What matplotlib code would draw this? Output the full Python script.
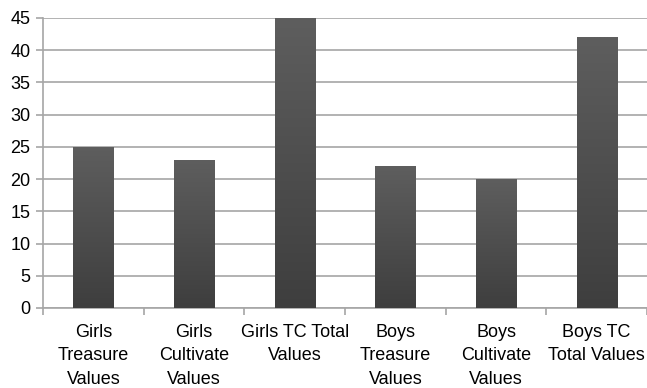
import numpy as np
import matplotlib.pyplot as plt
from matplotlib.colors import LinearSegmentedColormap

plt.rcParams['font.family'] = ['Liberation Sans', 'DejaVu Sans']

categories = ['Girls\nTreasure\nValues', 'Girls\nCultivate\nValues', 'Girls TC Total\nValues',
              'Boys\nTreasure\nValues', 'Boys\nCultivate\nValues', 'Boys TC\nTotal Values']
values = [25, 23, 45, 22, 20, 42]
yticks = [0, 5, 10, 15, 20, 25, 30, 35, 40, 45]

fig = plt.figure(figsize=(6.47, 3.88), dpi=100)
ax = fig.add_axes([43 / 647, 80 / 388, 604 / 647, 290 / 388])

grid_col = '#a6a6a6'
x = np.arange(len(values))
bars = ax.bar(x, values, width=0.4, color='#545454', zorder=3)

# vertical shading inside each bar
cmap = LinearSegmentedColormap.from_list('shade', ['#3e3e3e', '#5e5e5e'])
grad = np.linspace(0, 1, 256).reshape(-1, 1)
for b in bars:
    x0, y0 = b.get_x(), b.get_y()
    w, h = b.get_width(), b.get_height()
    im = ax.imshow(grad, cmap=cmap, aspect='auto', origin='lower',
                   extent=[x0, x0 + w, y0, y0 + h], zorder=3)
    im.set_clip_path(b)

ax.set_xlim(-0.5, 5.48)
ax.set_ylim(0, 45)
ax.set_yticks(yticks)
ax.yaxis.grid(True, color=grid_col, linewidth=1.2, zorder=0)
ax.set_axisbelow(True)

ax.set_xticks(np.arange(-0.5, 6, 1))
ax.set_xticklabels([])
ax.set_xticks(x, minor=True)
ax.set_xticklabels(categories, minor=True, fontsize=13, linespacing=1.5)
ax.tick_params(axis='x', which='major', length=5, color=grid_col, width=1.2)
ax.tick_params(axis='x', which='minor', length=0, pad=11.5)
ax.tick_params(axis='y', length=5, color=grid_col, width=1.2, labelsize=13, pad=4)

for s in ['top', 'right']:
    ax.spines[s].set_visible(False)
for s in ['left', 'bottom']:
    ax.spines[s].set_color(grid_col)
    ax.spines[s].set_linewidth(1.2)

fig.savefig('out.png', dpi=100)
